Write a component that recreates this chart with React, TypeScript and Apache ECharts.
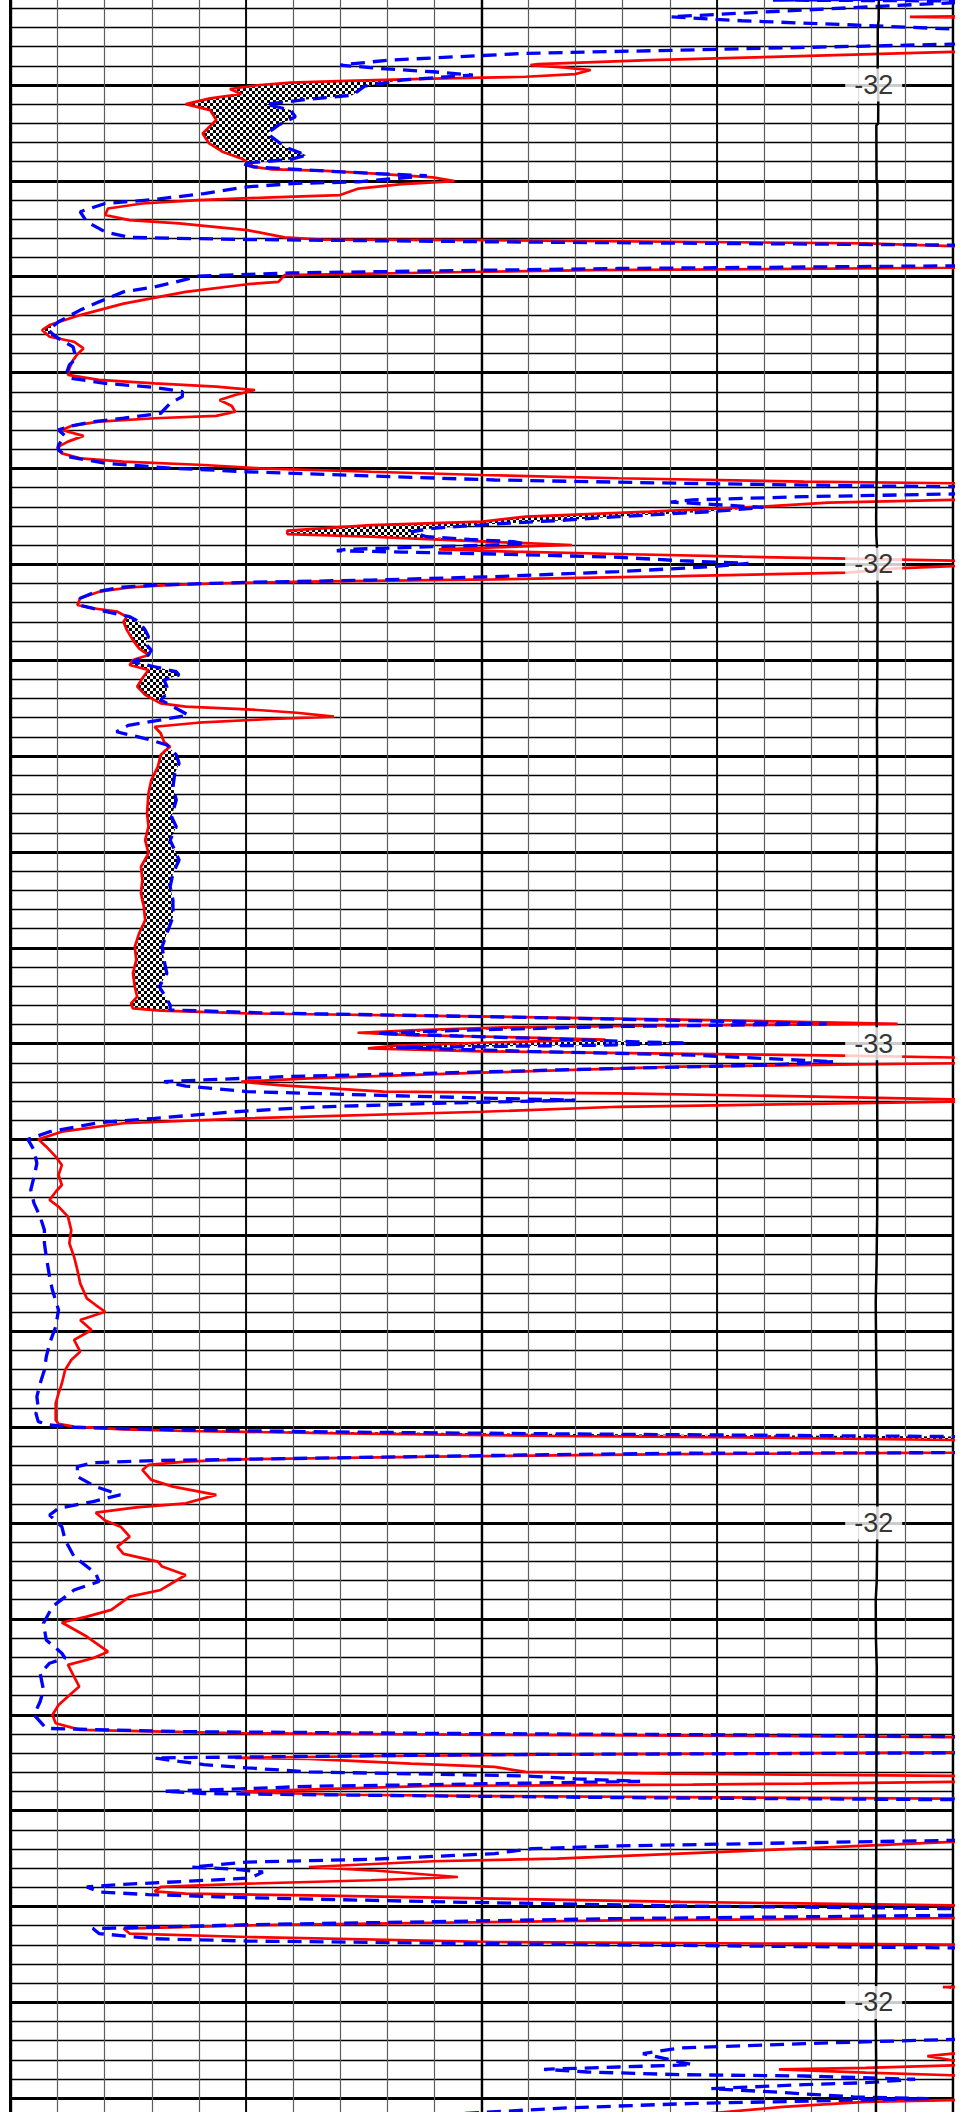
import React, { useEffect, useRef } from "react";
import * as echarts from "echarts";

// ---- axes ----
const X_MIN = 0;
const X_MAX = 20;
const DEPTH_MIN = 95;
const DEPTH_MAX = 206;
const SP_MIN = -244;
const SP_MAX = -14;

// ---- curves: [depth, value] ----
const redCurve: [number, number][] = [
  [95.5, 26], [96.3, 24], [96.45, 19.1], [96.6, 24],
  [98.15, 24], [98.27, 20.0], [98.53, 16.19], [98.7, 13.57], [98.91, 11.2], [98.96, 11.04], [99.08, 11.73], [99.22, 12.32], [99.43, 11.99], [99.57, 10.94], [99.67, 8.97], [99.78, 7.13], [99.88, 5.95], [100.0, 5.29], [100.21, 4.66], [100.47, 4.9], [100.7, 4.24], [101.0, 3.72], [101.31, 4.24], [101.83, 4.37], [102.53, 4.08], [103.05, 4.22], [103.48, 4.5], [103.83, 4.9], [104.06, 5.06], [104.27, 5.16], [104.4, 5.55], [104.47, 6.6], [104.61, 7.66], [104.82, 8.97], [105.01, 9.43], [105.17, 8.31], [105.4, 7.39], [105.74, 7.0], [105.86, 5.55], [106.0, 3.98], [106.18, 2.8], [106.44, 2.07], [106.78, 2.01], [107.05, 2.53], [107.22, 3.58], [107.57, 5.03], [107.95, 5.82], [108.06, 6.6], [108.09, 10.02], [108.26, 18.16], [108.4, 20.0], [108.55, 25],
  [109.4, 25], [109.53, 20.0], [109.66, 12.38], [109.74, 10.02], [109.92, 5.82], [110.27, 5.69], [110.39, 5.03], [110.79, 3.72], [111.4, 2.4], [112.0, 1.48], [112.52, 0.83], [112.78, 0.67], [113.13, 0.83], [113.39, 1.35], [113.74, 1.55], [114.04, 1.42],
  [114.34, 1.33], [114.78, 1.25], [115.12, 1.22], [115.38, 1.88], [115.56, 3.06], [115.73, 4.37], [115.91, 5.19], [116.17, 4.77], [116.43, 4.44], [116.74, 4.7], [117.04, 4.77], [117.26, 4.37], [117.38, 3.06], [117.56, 1.88], [117.78, 1.29], [117.99, 1.09], [118.3, 1.55], [118.6, 1.22], [118.9, 0.99], [119.21, 1.09], [119.47, 1.48], [119.64, 2.4], [119.82, 4.11], [119.99, 5.29], [120.17, 7.66], [120.34, 10.02], [120.51, 12.91], [120.69, 16.85], [120.77, 20.0], [120.83, 24],
  [121.56, 24], [121.64, 20.0], [121.78, 17.37], [121.99, 15.93], [122.25, 13.57], [122.51, 10.94], [122.77, 10.02], [122.95, 7.66], [123.12, 6.61], [123.24, 5.88], [123.42, 5.88], [123.56, 7.66], [123.7, 8.97], [123.87, 10.68], [123.99, 11.92], [124.11, 10.28], [124.22, 9.1], [124.34, 10.68], [124.46, 12.91], [124.6, 15.54], [124.7, 17.77], [124.81, 20.0], [124.95, 24], [125.09, 20.0], [125.21, 18.82], [125.43, 17.77], [125.61, 14.22], [125.78, 10.28], [125.9, 6.34], [125.99, 4.37], [126.08, 3.32], [126.2, 2.53], [126.43, 1.88], [126.77, 1.48], [127.12, 1.42], [127.29, 1.75], [127.47, 2.27], [127.73, 2.47], [127.99, 2.4], [128.42, 2.47], [128.95, 2.6], [129.38, 2.73], [129.73, 2.93], [129.99, 2.6], [130.25, 2.53], [130.51, 2.93], [130.94, 2.8], [131.38, 2.69], [131.81, 2.86], [132.25, 3.19],
  [132.42, 3.72], [132.56, 5.03], [132.74, 6.08], [132.94, 6.87], [133.08, 5.42], [133.26, 3.98], [133.47, 3.06], [133.81, 3.19], [134.25, 3.26], [134.51, 3.39], [134.68, 3.3], [134.94, 3.19], [135.55, 3.13], [136.25, 2.99], [136.94, 2.93], [137.99, 2.9], [138.68, 2.93], [139.38, 2.86], [140.07, 2.93], [140.77, 2.77], [141.46, 2.8], [142.16, 2.77], [142.85, 2.83], [143.55, 2.86], [144.25, 2.73], [144.94, 2.64], [145.64, 2.67], [146.33, 2.6], [147.03, 2.64], [147.55, 2.69], [147.9, 2.56], [148.16, 2.6],
  [148.28, 3.19], [148.42, 5.03], [148.59, 10.28], [148.8, 15.54], [148.97, 18.84], [149.05, 14.0], [149.15, 10.5], [149.3, 8.5], [149.43, 7.37], [149.55, 8.5], [149.65, 10.5], [149.78, 12.63], [149.95, 10.0], [150.1, 8.2], [150.24, 7.59], [150.4, 10.0], [150.52, 14.0], [150.62, 17.7], [150.72, 20.0], [150.78, 24],
  [150.95, 24], [151.02, 20.0], [151.2, 14.22], [151.51, 10.02], [151.81, 6.34], [151.98, 4.9], [152.16, 5.69], [152.5, 7.92], [152.59, 12.91], [152.76, 17.11], [152.9, 20.0], [152.95, 24], [153.0, 24], [153.02, 20.0], [153.08, 18.69], [153.29, 12.91], [153.55, 10.02], [153.89, 5.03], [154.15, 2.4], [154.59, 1.09], [154.99, 0.59],
  [155.37, 0.76], [155.89, 0.96], [156.33, 1.09], [156.85, 1.02], [157.37, 1.09], [157.72, 0.96], [158.15, 0.83], [158.5, 1.02], [159.02, 1.22], [159.72, 1.29], [160.41, 1.25], [161.11, 1.35], [161.8, 1.42], [162.5, 1.48], [163.28, 1.62], [163.63, 1.81], [163.98, 2.01], [164.41, 1.48], [164.93, 1.72], [165.45, 1.35], [166.06, 1.48], [166.5, 1.29], [167.02, 1.16], [167.72, 1.09], [168.24, 1.02], [168.76, 0.96],
  [169.62, 0.96], [169.83, 1.02], [169.97, 1.35], [170.11, 2.4], [170.2, 3.72], [170.32, 7.0], [170.46, 11.6], [170.53, 15.54], [170.67, 20.0], [170.75, 24],
  [171.25, 24], [171.33, 20], [171.41, 14.22], [171.54, 8.97], [171.67, 5.03], [171.8, 3.72], [171.97, 2.93], [172.23, 2.8], [172.75, 2.99], [173.1, 3.45], [173.53, 4.37], [173.97, 3.72], [174.18, 2.67], [174.46, 1.81], [174.87, 2.01], [175.19, 2.34], [175.71, 2.53], [176.23, 2.27], [176.61, 2.4], [177.01, 3.13], [177.27, 3.22], [177.71, 3.72], [178.49, 3.19], [178.84, 2.53], [179.53, 2.14], [179.88, 1.62], [180.19, 1.09], [180.92, 1.62], [181.71, 2.07], [182.05, 1.75], [182.4, 1.22], [183.01, 1.35], [183.53, 1.46], [184.05, 1.22], [184.49, 1.02], [185.01, 0.89], [185.44, 0.96], [185.79, 1.48], [185.97, 5.03], [186.05, 10.28], [186.1, 15.54], [186.17, 20], [186.22, 24],
  [186.9, 24], [186.96, 20], [187.05, 13.0], [187.15, 8.0], [187.25, 4.77], [187.3, 6.34], [187.55, 8.5], [187.72, 10.28], [187.98, 10.94], [188.07, 13.9], [188.19, 20.0], [188.25, 24],
  [188.45, 24], [188.5, 20], [188.59, 16.85], [188.64, 14.48], [188.71, 8.97], [188.99, 5.03], [189.03, 4.9], [189.17, 7.13], [189.24, 10.28], [189.37, 20], [189.45, 24],
  [191.5, 24], [191.63, 20], [191.98, 16.72], [192.24, 14.22], [192.5, 11.6], [192.64, 8.97], [192.94, 6.34], [193.11, 7.66], [193.46, 9.5], [193.63, 7.66], [193.81, 5.03], [193.98, 3.19], [194.21, 3.06], [194.33, 3.72], [194.42, 6.34], [194.59, 10.28], [194.76, 14.22], [194.94, 20], [195.0, 24],
  [195.5, 24], [195.6, 20], [195.72, 12.91], [195.98, 5.03], [196.15, 2.4], [196.41, 2.53], [196.59, 5.03], [196.85, 10.28], [196.94, 16.85], [196.99, 20], [197.05, 24],
  [199.1, 24], [199.2, 19.8], [199.3, 24],
  [202.55, 24], [202.67, 20], [202.8, 19.47], [203.02, 20], [203.1, 24], [203.2, 24], [203.28, 20], [203.42, 18.16], [203.49, 16.32], [203.66, 18.16], [203.8, 20], [203.9, 24],
  [205.0, 24], [205.1, 20], [205.19, 18.16], [205.45, 16.4], [205.8, 14.8],
];

const blueCurve: [number, number][] = [
  [95.4, 26], [95.57, 16.19], [95.64, 22.1], [95.71, 20.0], [96.09, 16.85], [96.44, 14.02], [96.65, 15.53], [96.87, 17.9], [97.08, 20.0], [97.31, 24.7],
  [97.74, 25], [97.87, 20.0], [97.97, 18.16], [98.14, 15.01], [98.35, 10.94], [98.7, 8.05], [98.96, 7.0], [99.13, 7.79], [99.31, 8.97], [99.48, 9.82], [99.74, 8.31], [100.06, 7.52], [100.53, 7.26], [100.74, 6.34], [101.0, 5.42], [101.31, 5.95], [101.66, 6.05], [102.09, 5.69], [102.53, 5.45], [103.22, 5.82], [103.66, 6.28], [103.88, 5.95], [104.09, 4.9], [104.27, 5.16], [104.44, 6.34], [104.61, 7.66], [104.73, 8.84], [105.05, 7.39], [105.13, 6.08], [105.31, 5.03], [105.66, 4.11], [105.97, 3.06], [106.18, 2.01], [106.61, 1.48], [107.13, 1.62], [107.66, 2.01], [107.95, 2.53], [108.06, 5.03], [108.18, 10.28], [108.35, 20.0], [108.53, 25],
  [109.3, 25], [109.43, 20.0], [109.57, 12.91], [109.74, 7.66], [109.8, 5.95], [109.97, 3.98], [110.27, 3.52], [110.53, 3.06], [110.79, 2.4], [111.31, 1.88], [111.74, 1.48], [112.35, 1.02], [112.78, 0.8], [113.13, 0.96], [113.66, 1.33], [114.26, 1.39],
  [114.6, 1.25], [115.04, 1.19], [115.3, 1.29], [115.56, 2.01], [115.77, 3.06], [115.99, 3.65], [116.25, 3.65], [116.6, 3.39], [117.12, 3.19], [117.38, 2.4], [117.56, 1.75], [117.78, 1.29], [117.99, 1.02], [118.3, 1.16], [118.77, 1.02], [119.04, 1.02], [119.38, 1.22], [119.73, 2.01], [119.99, 3.45], [120.17, 5.03], [120.39, 7.66], [120.6, 10.28], [120.77, 14.22], [120.91, 18.16], [120.95, 20.0], [121.03, 24],
  [121.21, 24], [121.33, 20.0], [121.47, 16.85], [121.64, 14.48], [121.75, 14.02], [121.87, 14.88], [122.03, 15.99], [122.25, 14.88], [122.51, 12.91], [122.72, 11.6], [122.89, 10.28], [123.12, 8.97], [123.3, 8.51], [123.56, 8.84], [123.7, 9.76], [123.82, 10.68], [123.94, 10.94], [124.08, 8.97], [124.22, 7.13], [124.29, 6.93], [124.36, 8.31], [124.46, 10.28], [124.63, 12.91], [124.81, 14.22], [124.95, 15.67], [125.12, 14.88], [125.38, 12.91], [125.64, 10.28], [125.82, 7.66], [125.94, 5.03], [126.08, 3.06], [126.2, 2.33], [126.43, 1.81], [126.77, 1.48], [127.12, 1.46], [127.38, 1.88], [127.73, 2.53], [127.99, 2.73], [128.42, 2.86], [128.77, 2.93], [129.12, 2.86], [129.47, 2.99], [129.73, 2.93], [130.08, 2.6], [130.34, 3.06], [130.6, 3.52], [130.77, 3.58], [131.03, 3.26], [131.38, 3.32], [131.73, 3.32], [132.07, 3.19], [132.42, 3.45],
  [132.86, 3.78], [133.15, 3.1], [133.4, 2.5], [133.73, 2.25], [134.13, 2.93], [134.42, 3.32], [134.94, 3.52], [135.38, 3.58], [135.9, 3.49], [136.6, 3.45], [137.29, 3.52], [138.16, 3.42], [138.68, 3.52], [139.38, 3.39], [140.42, 3.58], [141.12, 3.45], [141.81, 3.39], [142.51, 3.45], [143.38, 3.45], [144.25, 3.32], [144.94, 3.22], [145.64, 3.26], [146.33, 3.32], [147.03, 3.16], [147.55, 3.29], [147.98, 3.39], [148.24, 3.39],
  [148.4, 5.5], [148.6, 10.3], [148.8, 14.5], [148.97, 17.33], [149.1, 13.0], [149.3, 9.5], [149.46, 7.79], [149.6, 9.5], [149.75, 11.5], [149.9, 13.3], [149.98, 14.38], [150.08, 12.5], [150.2, 8.2], [150.4, 11.0], [150.6, 14.5], [150.94, 17.49], [151.11, 16.06], [151.37, 11.6], [151.58, 8.31], [151.72, 5.82], [151.89, 4.11], [151.98, 3.26], [152.21, 3.72], [152.5, 5.03], [152.68, 7.66], [152.85, 10.28], [152.94, 11.99], [153.11, 8.97], [153.32, 6.34], [153.55, 4.77], [153.89, 3.06], [154.12, 1.88], [154.59, 0.83], [154.99, 0.37],
  [155.55, 0.5], [156.24, 0.56], [156.94, 0.5], [157.63, 0.43], [158.33, 0.5], [159.02, 0.63], [159.72, 0.72], [160.41, 0.72], [161.11, 0.76], [162.15, 0.83], [162.85, 0.89], [163.89, 1.02], [164.76, 0.96], [165.63, 0.83], [166.32, 0.76], [167.02, 0.72], [167.72, 0.63], [168.41, 0.56], [169.02, 0.59],
  [169.28, 0.54], [169.71, 0.59], [169.88, 0.83], [170.01, 1.35], [170.15, 3.72], [170.27, 7.66], [170.37, 12.91], [170.49, 20.0], [170.6, 24],
  [171.2, 24], [171.33, 20], [171.36, 14.22], [171.45, 10.94], [171.57, 7.66], [171.67, 5.03], [171.74, 3.06], [171.85, 1.75], [172.06, 1.42], [172.58, 1.42], [173.1, 1.81], [173.53, 2.33], [173.88, 1.75], [174.23, 1.02], [174.58, 0.83], [175.19, 1.09], [175.88, 1.16], [176.75, 1.35], [177.62, 1.81], [178.05, 1.88], [178.49, 1.35], [179.36, 0.89], [180.23, 0.7], [181.1, 0.76], [181.79, 1.09], [182.05, 1.16], [182.31, 0.83], [182.84, 0.63], [183.7, 0.7], [184.31, 0.63], [185.01, 0.5], [185.71, 0.76], [185.88, 3.72], [185.97, 8.97], [186.05, 15.54], [186.14, 20], [186.2, 24],
  [186.9, 24], [186.99, 20], [187.08, 10.02], [187.2, 5.03], [187.25, 3.06], [187.43, 3.58], [187.6, 4.11], [187.77, 5.03], [187.98, 6.34], [188.1, 8.97], [188.19, 10.94], [188.34, 12.0], [188.47, 13.37], [188.54, 11.6], [188.64, 8.97], [188.73, 6.34], [188.85, 5.03], [188.99, 3.26], [189.11, 4.11], [189.2, 7.66], [189.32, 12.91], [189.43, 20], [189.5, 24],
  [191.45, 24], [191.55, 20], [191.67, 16.85], [191.84, 12.91], [191.98, 11.07], [192.24, 10.28], [192.54, 7.66], [192.68, 5.03], [192.94, 3.85], [193.06, 4.77], [193.2, 5.36], [193.51, 5.1], [193.69, 3.72], [193.84, 2.4], [193.98, 1.62], [194.24, 1.88], [194.38, 2.93], [194.54, 5.03], [194.76, 9.23], [194.97, 14.22], [195.11, 20], [195.2, 24],
  [195.4, 24], [195.46, 20], [195.63, 12.91], [195.95, 5.03], [196.15, 1.75], [196.41, 1.88], [196.68, 3.06], [196.8, 5.03], [196.94, 10.28], [197.06, 15.54], [197.16, 20], [197.25, 24],
  [201.85, 24], [201.93, 20], [202.15, 16.85], [202.38, 14.22], [202.67, 13.43], [203.11, 14.22], [203.25, 14.48], [203.37, 12.91], [203.49, 11.33], [203.63, 12.25], [203.77, 14.22], [203.84, 16.85], [204.01, 19.21], [204.19, 18.16], [204.29, 16.85], [204.5, 14.88], [204.67, 16.19], [204.93, 17.9], [205.02, 19.5], [205.27, 14.5], [205.5, 11.8], [205.8, 9.6],
];

const blackCurve: [number, number][] = [
  [95.5, -31.95], [96.6, -31.98], [97.0, -32.2], [99.2, -32.22], [100.8, -32.08], [102.0, -32.1], [102.1, -32.55], [105.0, -32.5], [105.2, -32.3], [108.0, -32.3], [111.0, -32.25], [114.0, -32.3], [117.0, -32.35], [120.0, -32.45], [122.5, -32.6], [123.5, -32.55], [124.5, -32.3], [127.0, -32.25], [130.0, -32.3], [133.0, -32.4], [137.0, -32.35], [141.0, -32.45], [145.0, -32.4], [148.0, -32.5], [151.0, -32.4], [155.0, -32.3], [159.0, -32.35], [161.5, -32.5], [163.5, -32.7], [166.0, -32.6], [169.0, -32.45], [172.0, -32.3], [175.0, -32.3], [178.0, -32.45], [179.0, -32.7], [181.0, -32.65], [182.5, -32.45], [186.0, -32.5], [190.0, -32.55], [194.0, -32.6], [198.0, -32.55], [201.0, -32.7], [203.0, -32.6], [206.0, -32.65],
];

const labelDepths = [100, 125, 150, 175, 200];
const labelTexts = ["-32", "-32", "-33", "-32", "-32"];
const LABEL_SP_POS = -33.2;

function interp(curve: [number, number][], d: number): number {
  if (d <= curve[0][0]) return curve[0][1];
  for (let i = 0; i < curve.length - 1; i++) {
    const a = curve[i], b = curve[i + 1];
    if (d >= a[0] && d <= b[0]) {
      const t = b[0] === a[0] ? 0 : (d - a[0]) / (b[0] - a[0]);
      return a[1] + t * (b[1] - a[1]);
    }
  }
  return curve[curve.length - 1][1];
}

function buildFill(red: [number, number][], blue: [number, number][]) {
  const d0 = Math.max(red[0][0], blue[0][0]);
  const d1 = Math.min(red[red.length - 1][0], blue[blue.length - 1][0]);
  const depths = Array.from(new Set([...red.map((p) => p[0]), ...blue.map((p) => p[0])]))
    .filter((d) => d >= d0 && d <= d1)
    .sort((a, b) => a - b);
  const clamp = (v: number) => Math.max(X_MIN, Math.min(X_MAX, v));
  const polys: number[][][] = [];
  let cur: { left: number[][]; right: number[][] } | null = null;
  let prev: { d: number; r: number; diff: number } | null = null;
  for (const d of depths) {
    const r = interp(red, d);
    const b = interp(blue, d);
    const diff = b - r;
    if (prev) {
      if (prev.diff > 0 !== diff > 0) {
        const t = prev.diff / (prev.diff - diff);
        const dc = prev.d + t * (d - prev.d);
        const rc = prev.r + t * (r - prev.r);
        if (cur) {
          cur.left.push([rc, dc]);
          cur.right.push([rc, dc]);
          polys.push(cur.left.concat(cur.right.reverse()));
          cur = null;
        } else {
          cur = { left: [[rc, dc]], right: [[rc, dc]] };
        }
      }
    } else if (diff > 0) {
      cur = { left: [], right: [] };
    }
    if (diff > 0 && cur) {
      cur.left.push([r, d]);
      cur.right.push([b, d]);
    }
    prev = { d, r, diff };
  }
  if (cur) polys.push(cur.left.concat(cur.right.reverse()));
  return polys.map((p) => p.map(([v, d]) => [clamp(v), d]));
}

function makeChecker() {
  const c = document.createElement("canvas");
  c.width = 6;
  c.height = 6;
  const ctx = c.getContext("2d")!;
  ctx.fillStyle = "#ffffff";
  ctx.fillRect(0, 0, 6, 6);
  ctx.fillStyle = "#000000";
  ctx.fillRect(0, 0, 3, 3);
  ctx.fillRect(3, 3, 3, 3);
  return c;
}

export default function App() {
  const ref = useRef<HTMLDivElement>(null);
  useEffect(() => {
    if (!ref.current) return;
    const chart = echarts.init(ref.current, null, { renderer: "svg" });
    const fillPolys = buildFill(redCurve, blueCurve);
    const checker: any = { image: makeChecker(), repeat: "repeat", imageWidth: 6, imageHeight: 6 };
    const hidden = { axisLine: { show: false }, axisTick: { show: false }, axisLabel: { show: false } };
    chart.setOption({
      animation: false,
      backgroundColor: "#ffffff",
      grid: { left: 10.5, top: 0.13, width: 941.8, height: 2128.3, containLabel: false, show: false },
      xAxis: [
        { type: "value", min: X_MIN, max: X_MAX, interval: 1, position: "top", ...hidden,
          splitLine: { show: true, lineStyle: { color: "#5c5c5c", width: 1.2 } } },
        { type: "value", min: X_MIN, max: X_MAX, interval: 5, position: "top", ...hidden,
          splitLine: { show: true, lineStyle: { color: "#000", width: 1.8 } } },
        { type: "value", min: X_MIN, max: X_MAX, interval: 10, position: "top", ...hidden,
          splitLine: { show: true, lineStyle: { color: "#000", width: 2.4 } } },
        { type: "value", min: SP_MIN, max: SP_MAX, position: "bottom", ...hidden, splitLine: { show: false } },
      ],
      yAxis: [
        { type: "value", min: DEPTH_MIN, max: DEPTH_MAX, interval: 1, inverse: true,
          axisLine: { show: true, onZero: false, lineStyle: { color: "#000", width: 3 } },
          axisTick: { show: false }, axisLabel: { show: false },
          splitLine: { show: true, lineStyle: { color: "#000", width: 1.4 } } },
        { type: "value", min: DEPTH_MIN, max: DEPTH_MAX, interval: 5, inverse: true, ...hidden,
          splitLine: { show: true, lineStyle: { color: "#000", width: 3 } } },
      ],
      series: [
        {
          type: "custom",
          xAxisIndex: 0,
          yAxisIndex: 0,
          clip: true,
          z: 2,
          silent: true,
          data: fillPolys.map((p) => [p[0][0], p[0][1]]),
          renderItem: (params: any, api: any) => {
            const poly = fillPolys[params.dataIndex];
            const pts = poly.map((pt) => api.coord([pt[0], pt[1]]));
            return { type: "polygon", shape: { points: pts }, style: { fill: checker, stroke: null } };
          },
        },
        {
          type: "line",
          xAxisIndex: 0,
          yAxisIndex: 0,
          z: 3,
          symbol: "none",
          clip: true,
          data: redCurve.map(([d, v]) => [v, d]),
          lineStyle: { color: "#ff0000", width: 2.7 },
        },
        {
          type: "line",
          xAxisIndex: 0,
          yAxisIndex: 0,
          z: 4,
          symbol: "none",
          clip: true,
          data: blueCurve.map(([d, v]) => [v, d]),
          lineStyle: { color: "#0000ff", width: 3.3, type: [14, 8] },
        },
        {
          type: "line",
          xAxisIndex: 3,
          yAxisIndex: 0,
          z: 5,
          symbol: "none",
          clip: true,
          data: blackCurve.map(([d, v]) => [v, d]),
          lineStyle: { color: "#000", width: 2.5 },
        },
        {
          type: "scatter",
          xAxisIndex: 3,
          yAxisIndex: 0,
          z: 10,
          symbol: "rect",
          symbolSize: 1,
          itemStyle: { color: "transparent" },
          data: labelDepths.map((d) => [LABEL_SP_POS, d]),
          label: {
            show: true,
            position: "inside",
            formatter: (p: any) => labelTexts[p.dataIndex],
            fontSize: 27,
            fontFamily: "Liberation Sans, Arial, sans-serif",
            color: "#000",
            textBorderWidth: 0,
            backgroundColor: "#ffffff",
            padding: [3, 9],
          },
        },
      ],
    });
    return () => chart.dispose();
  }, []);
  return (
    <div style={{ position: "fixed", left: 0, top: 0, width: 968, height: 2112, overflow: "hidden", background: "#fff" }}>
      <div ref={ref} style={{ position: "absolute", left: 0, top: -11, width: 968, height: 2130 }} />
    </div>
  );
}
